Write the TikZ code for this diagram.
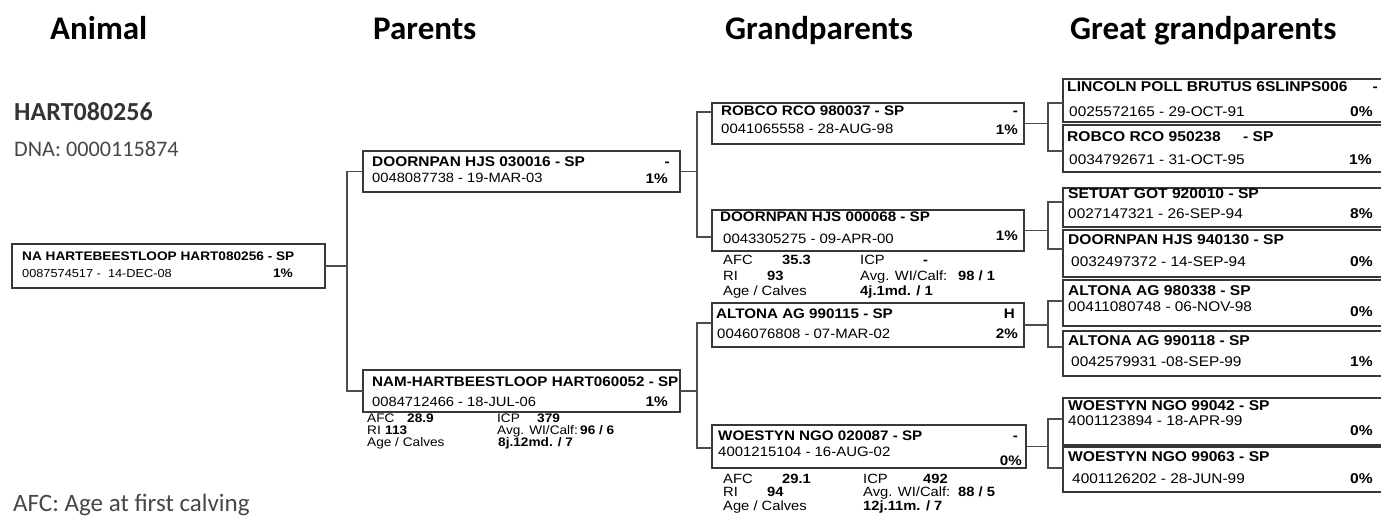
\documentclass[tikz,border=0pt]{standalone}
\usepackage{fontspec}
\newfontfamily\hvf[FakeStretch=1.1]{Liberation Sans}
\newfontfamily\carl{Carlito}
\newcommand\fsz[1]{\fontsize{#1}{#1}\selectfont}
\begin{document}
\begin{tikzpicture}[x=1pt,y=-1pt,
  bx/.style={draw=black!78, line width=1.2pt, inner sep=0, outer sep=0},
  ln/.style={draw=black!70, line width=1.2pt},
  nm/.style={anchor=mid west, inner sep=0, yshift=-1.3pt, font=\hvf\bfseries\fsz{#1}},
  id/.style={anchor=mid west, inner sep=0, yshift=-1.3pt, font=\hvf\fsz{#1}},
  pc/.style={anchor=mid east, inner sep=0, yshift=-1.3pt, font=\hvf\bfseries\fsz{#1}},
  st/.style={anchor=mid west, inner sep=0, yshift=-1.2pt, font=\hvf\fsz{#1}},
  sb/.style={anchor=mid west, inner sep=0, yshift=-1.2pt, font=\hvf\bfseries\fsz{#1}},
  hd/.style={anchor=base west, inner sep=0, font=\carl\bfseries\fsz{33}},
  gt/.style={anchor=base west, inner sep=0, text=black!72, font=\carl\fsz{#1}}
]
\useasboundingbox (0,0) rectangle (1381,516);
\clip (0,0) rectangle (1381,516);

% headings
\node[hd] (h1) at (50,40) {Animal};
\node[hd] (h2) at (373,40) {Parents};
\node[hd] (h3) at (725,40) {Grandparents};
\node[hd] (h4) at (1070,40) {Great grandparents};

\node[gt=26, text=black!80, font=\carl\bfseries\fsz{26}] (hart) at (14,121) {HART080256};
\node[gt=22.2] (dna) at (14,157) {DNA: 0000115874};
\node[gt=25] (afcnote) at (13,511) {AFC: Age at first calving};

% animal
\node[bx, minimum width=313, minimum height=44] (an) at (168.5,266) {};
\node[nm=12.4] (an1) at (22,257) {NA HARTEBEESTLOOP HART080256 - SP};
\node[id=11.6] (an2) at (22,274) {0087574517 -\ \ 14-DEC-08};
\node[pc=12.4] (an3) at (293,274) {1\%};

% parents
\node[bx, minimum width=317, minimum height=41] (p1) at (521.5,171.5) {};
\node[nm=14] (p1a) at (372,163) {DOORNPAN HJS 030016 - SP};
\node[pc=14] (p1b) at (670,163) {-};
\node[id=13.4] (p1c) at (372,179) {0048087738 - 19-MAR-03};
\node[pc=14] (p1d) at (668,180) {1\%};

\node[bx, minimum width=317, minimum height=42] (p2) at (521.5,391) {};
\node[nm=13.8] (p2a) at (372,383) {NAM-HARTBEESTLOOP HART060052 - SP};
\node[id=13.4] (p2c) at (372,403) {0084712466 - 18-JUL-06};
\node[pc=14] (p2d) at (668,403) {1\%};
\node[st=12.4] (p2s1) at (367,419) {AFC};
\node[sb=12.4] (p2s2) at (407,419) {28.9};
\node[st=12.4] (p2s3) at (497,419) {ICP};
\node[sb=12.4] (p2s4) at (537,419) {379};
\node[st=12.4] (p2s5) at (367,431) {RI};
\node[sb=12.4] (p2s6) at (385,431) {113};
\node[st=12.4] (p2s7) at (497,431) {Avg. WI/Calf:};
\node[sb=12.4] (p2s8) at (580,431) {96 / 6};
\node[st=12.4] (p2s9) at (367,443) {Age / Calves};
\node[sb=12.4] (p2s10) at (498,443) {8j.12md. / 7};

% grandparents
\node[bx, minimum width=312, minimum height=41] (g1) at (868,123.5) {};
\node[nm=13.8] (g1a) at (721,112) {ROBCO RCO 980037 - SP};
\node[pc=13.8] (g1b) at (1018,112) {-};
\node[id=13.6] (g1c) at (721,130) {0041065558 - 28-AUG-98};
\node[pc=13.8] (g1d) at (1018,131) {1\%};

\node[bx, minimum width=312, minimum height=41] (g2) at (868,230.5) {};
\node[nm=13.8] (g2a) at (720,218) {DOORNPAN HJS 000068 - SP};
\node[id=13.6] (g2c) at (723,240) {0043305275 - 09-APR-00};
\node[pc=13.8] (g2d) at (1018,237) {1\%};
\node[st=13.4] (g2s1) at (723,261) {AFC};
\node[sb=13.4] (g2s2) at (782,261) {35.3};
\node[st=13.4] (g2s3) at (860,261) {ICP};
\node[sb=13.4] (g2s4) at (923,261) {-};
\node[st=13.4] (g2s5) at (723,277) {RI};
\node[sb=13.4] (g2s6) at (767,277) {93};
\node[st=13.4] (g2s7) at (860,277) {Avg. WI/Calf:};
\node[sb=13.4] (g2s8) at (958,277) {98 / 1};
\node[st=13.4] (g2s9) at (723,292) {Age / Calves};
\node[sb=13.4] (g2s10) at (860,292) {4j.1md. / 1};

\node[bx, minimum width=312, minimum height=44] (g3) at (868,325) {};
\node[nm=13.8] (g3a) at (716,315) {ALTONA AG 990115 - SP};
\node[pc=13.8] (g3b) at (1015,315) {H};
\node[id=13.6] (g3c) at (717,335) {0046076808 - 07-MAR-02};
\node[pc=13.8] (g3d) at (1018,335) {2\%};

\node[bx, minimum width=314, minimum height=43] (g4) at (869,446.5) {};
\node[nm=13.8] (g4a) at (718,437) {WOESTYN NGO 020087 - SP};
\node[pc=13.8] (g4b) at (1018,437) {-};
\node[id=13.6] (g4c) at (718,453) {4001215104 - 16-AUG-02};
\node[pc=13.8] (g4d) at (1022,462) {0\%};
\node[st=13.4] (g4s1) at (723,480) {AFC};
\node[sb=13.4] (g4s2) at (782,480) {29.1};
\node[st=13.4] (g4s3) at (863,480) {ICP};
\node[sb=13.4] (g4s4) at (923,480) {492};
\node[st=13.4] (g4s5) at (723,493) {RI};
\node[sb=13.4] (g4s6) at (767,493) {94};
\node[st=13.4] (g4s7) at (863,493) {Avg. WI/Calf:};
\node[sb=13.4] (g4s8) at (958,493) {88 / 5};
\node[st=13.4] (g4s9) at (723,507) {Age / Calves};
\node[sb=13.4] (g4s10) at (863,507) {12j.11m. / 7};

% great grandparents
\node[bx, minimum width=327, minimum height=43] (gg1) at (1226.5,100.5) {};
\node[nm=14.2] (gg1a) at (1067,88) {LINCOLN POLL BRUTUS 6SLINPS006};
\node[pc=14.2] (gg1b) at (1378,88) {-};
\node[id=14] (gg1c) at (1069,113) {0025572165 - 29-OCT-91};
\node[pc=14.2] (gg1d) at (1373,113) {0\%};

\node[bx, minimum width=327, minimum height=47] (gg2) at (1226.5,148.5) {};
\node[nm=14.2] (gg2a) at (1067,138) {ROBCO RCO 950238};
\node[nm=14.2] (gg2b) at (1243,138) {- SP};
\node[id=14] (gg2c) at (1069,161) {0034792671 - 31-OCT-95};
\node[pc=14.2] (gg2d) at (1372,161) {1\%};

\node[bx, minimum width=327, minimum height=39] (gg3) at (1226.5,207.5) {};
\node[nm=14.2] (gg3a) at (1068,195) {SETUAT GOT 920010 - SP};
\node[id=14] (gg3c) at (1068,215) {0027147321 - 26-SEP-94};
\node[pc=14.2] (gg3d) at (1373,215) {8\%};

\node[bx, minimum width=327, minimum height=47] (gg4) at (1226.5,253.5) {};
\node[nm=14.2] (gg4a) at (1068,241) {DOORNPAN HJS 940130 - SP};
\node[id=14] (gg4c) at (1071,263) {0032497372 - 14-SEP-94};
\node[pc=14.2] (gg4d) at (1373,263) {0\%};

\node[bx, minimum width=327, minimum height=46] (gg5) at (1226.5,303) {};
\node[nm=14.2] (gg5a) at (1068,292) {ALTONA AG 980338 - SP};
\node[id=14] (gg5c) at (1068,308) {00411080748 - 06-NOV-98};
\node[pc=14.2] (gg5d) at (1373,313) {0\%};

\node[bx, minimum width=327, minimum height=45] (gg6) at (1226.5,353.5) {};
\node[nm=14.2] (gg6a) at (1068,342) {ALTONA AG 990118 - SP};
\node[id=14] (gg6c) at (1071,363) {0042579931 -08-SEP-99};
\node[pc=14.2] (gg6d) at (1373,363) {1\%};

\node[bx, minimum width=327, minimum height=47] (gg7) at (1226.5,421.5) {};
\node[nm=14.2] (gg7a) at (1068,407) {WOESTYN NGO 99042 - SP};
\node[id=14] (gg7c) at (1068,422) {4001123894 - 18-APR-99};
\node[pc=14.2] (gg7d) at (1373,432) {0\%};

\node[bx, minimum width=327, minimum height=45] (gg8) at (1226.5,469.5) {};
\node[nm=14.2] (gg8a) at (1068,458) {WOESTYN NGO 99063 - SP};
\node[id=14] (gg8c) at (1072,480) {4001126202 - 28-JUN-99};
\node[pc=14.2] (gg8d) at (1373,480) {0\%};

% connectors
\draw[ln] (p1.west) -- ++(-16,0) coordinate (v1) |- (p2.west);
\draw[ln] (an.east) -- (an.east -| v1);
\draw[ln] ([yshift=11.5pt]g1.west) -- ++(-15,0) coordinate (v2) |- ([yshift=-6.5pt]g2.west);
\draw[ln] (p1.east) -- (p1.east -| v2);
\draw[ln] ([yshift=2pt]g3.west) -- ++(-15,0) coordinate (v3) |- ([yshift=-1.5pt]g4.west);
\draw[ln] (p2.east) -- (p2.east -| v3);
\draw[ln] ([yshift=-2.5pt]gg1.west) -- ++(-15,0) coordinate (v4) |- ([yshift=-2.5pt]gg2.west);
\draw[ln] (g1.east) -- (g1.east -| v4);
\draw[ln] ([yshift=5.5pt]gg3.west) -- ++(-15,0) coordinate (v5) |- ([yshift=4.5pt]gg4.west);
\draw[ln] (g2.east) -- (g2.east -| v5);
\draw[ln] ([yshift=2pt]gg5.west) -- ++(-15,0) coordinate (v6) |- ([yshift=6.5pt]gg6.west);
\draw[ln] (g3.east) -- (g3.east -| v6);
\draw[ln] ([yshift=2.5pt]gg7.west) -- ++(-15,0) coordinate (v7) |- ([yshift=1.5pt]gg8.west);
\draw[ln] (g4.east) -- (g4.east -| v7);
\end{tikzpicture}
\end{document}
